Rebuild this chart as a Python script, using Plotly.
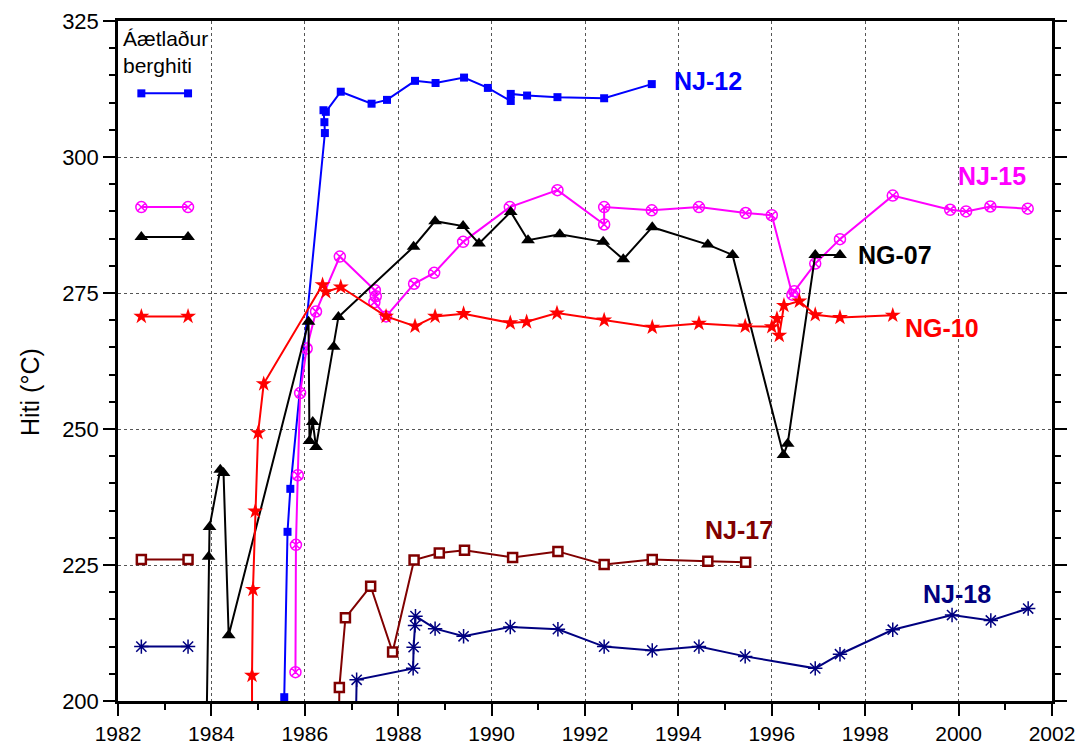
import plotly.graph_objects as go

# ---------------- data ----------------
nj12_x = [1985.56, 1985.63, 1985.69, 1986.43, 1986.42, 1986.40, 1986.45, 1986.77, 1987.43, 1987.76,
          1988.36, 1988.80, 1989.41, 1989.92, 1990.41, 1990.41, 1990.76, 1991.41, 1992.41, 1993.43]
nj12_y = [200.7, 231.1, 239.0, 304.4, 306.4, 308.6, 308.3, 312.0, 309.8, 310.5,
          314.0, 313.6, 314.6, 312.7, 310.3, 311.6, 311.3, 311.0, 310.8, 313.4]

nj15_x = [1985.80, 1985.81, 1985.85, 1985.90, 1986.04, 1986.24, 1986.75, 1987.50, 1987.52, 1987.49,
          1987.74, 1988.34, 1988.77, 1989.39, 1990.39, 1991.41, 1992.41, 1992.41, 1993.43, 1994.44,
          1995.44, 1996.00, 1996.44, 1996.48, 1996.93, 1997.46, 1998.59, 1999.82, 2000.16, 2000.68, 2001.48]
nj15_y = [205.3, 228.7, 241.5, 256.6, 264.8, 271.6, 281.7, 275.5, 274.4, 273.3,
          270.7, 276.7, 278.7, 284.4, 290.8, 293.9, 287.6, 290.8, 290.2, 290.8,
          289.7, 289.3, 274.7, 275.3, 280.4, 284.9, 292.9, 290.3, 290.0, 290.9, 290.5]

ng07_x = [1983.87, 1983.94, 1983.96, 1984.19, 1984.26, 1984.37, 1986.08, 1986.10, 1986.17, 1986.24,
          1986.62, 1986.72, 1988.33, 1988.79, 1989.39, 1989.73, 1990.41, 1990.78, 1991.46, 1992.39,
          1992.82, 1993.44, 1994.63, 1995.16, 1996.25, 1996.34, 1996.93, 1997.46]
ng07_y = [180.0, 226.5, 232.0, 242.5, 241.9, 212.1, 269.7, 247.8, 251.3, 246.7,
          265.1, 270.6, 283.5, 288.2, 287.3, 284.1, 289.9, 284.7, 285.8, 284.4,
          281.2, 287.1, 283.9, 282.0, 245.2, 247.3, 282.0, 282.0]

ng10_x = [1984.87, 1984.87, 1984.89, 1984.94, 1985.00, 1985.12, 1986.38, 1986.45, 1986.77, 1987.74,
          1988.36, 1988.79, 1989.40, 1990.40, 1990.75, 1991.40, 1992.41, 1993.44, 1994.44, 1995.43,
          1996.00, 1996.11, 1996.16, 1996.26, 1996.59, 1996.93, 1997.46, 1998.59]
ng10_y = [190.0, 204.7, 220.5, 234.9, 249.3, 258.3, 276.5, 275.2, 276.1, 270.7,
          268.9, 270.7, 271.2, 269.5, 269.7, 271.3, 270.0, 268.7, 269.4, 268.9,
          268.8, 270.3, 267.2, 272.7, 273.5, 271.0, 270.5, 270.9]

nj17_x = [1986.72, 1986.74, 1986.87, 1987.41, 1987.88, 1988.34, 1988.88, 1989.42, 1990.45, 1991.42,
          1992.41, 1993.44, 1994.63, 1995.44]
nj17_y = [185.0, 202.5, 215.3, 221.1, 209.0, 225.9, 227.2, 227.7, 226.4, 227.5,
          225.1, 226.0, 225.7, 225.5]

nj18_x = [1987.07, 1987.11, 1988.32, 1988.33, 1988.36, 1988.37, 1988.79, 1989.40, 1990.40, 1991.42,
          1992.41, 1993.44, 1994.44, 1995.43, 1996.93, 1997.46, 1998.59, 1999.86, 2000.69, 2001.49]
nj18_y = [185.0, 203.9, 206.0, 209.9, 213.9, 215.6, 213.3, 211.9, 213.6, 213.2,
          210.0, 209.3, 210.0, 208.2, 206.0, 208.6, 213.1, 215.8, 214.8, 217.0]

# estimated formation temperature ("Áætlaður berghiti") segments
est_x = [1982.5, 1983.5]
est_temp = {"NJ-12": 311.7, "NJ-15": 290.8, "NG-07": 285.3, "NG-10": 270.7, "NJ-17": 226.0, "NJ-18": 210.0}

# label positions (data coords)
labels = {"NJ-12": (1994.63, 314.0), "NJ-15": (2000.72, 296.6), "NG-07": (1998.64, 281.9),
          "NG-10": (1999.65, 268.5), "NJ-17": (1995.30, 231.4), "NJ-18": (1999.96, 219.7)}

x_ticks = list(range(1982, 2003, 2))
y_ticks = [200, 225, 250, 275, 300, 325]

# ---------------- styles ----------------
FONT = "Liberation Sans, Arial, sans-serif"
styles = {
    "NJ-12": dict(color="#0000FF", symbol="square", size=8, lw=2),
    "NJ-15": dict(color="#FF00FF", symbol="circle-x-open", size=11, lw=2),
    "NG-07": dict(color="#000000", symbol="triangle-up", size=12, lw=2),
    "NG-10": dict(color="#FF0000", symbol="star", size=12, lw=2),
    "NJ-17": dict(color="#800000", symbol="square", size=9, lw=2),
    "NJ-18": dict(color="#000080", symbol="asterisk-open", size=12, lw=2),
}
series = {
    "NJ-12": (nj12_x, nj12_y), "NJ-15": (nj15_x, nj15_y), "NG-07": (ng07_x, ng07_y),
    "NG-10": (ng10_x, ng10_y), "NJ-17": (nj17_x, nj17_y), "NJ-18": (nj18_x, nj18_y),
}

def marker_for(name):
    s = styles[name]
    if name == "NJ-17":
        return dict(symbol="square", size=s["size"], color="white",
                    line=dict(color=s["color"], width=2.5))
    if s["symbol"].endswith("open"):
        return dict(symbol=s["symbol"], size=s["size"], color=s["color"],
                    line=dict(color=s["color"], width=1.5))
    return dict(symbol=s["symbol"], size=s["size"], color=s["color"],
                line=dict(color=s["color"], width=0))

fig = go.Figure()
for name, (xs, ys) in series.items():
    s = styles[name]
    fig.add_trace(go.Scatter(x=xs, y=ys, mode="lines+markers", name=name,
                             line=dict(color=s["color"], width=s["lw"]),
                             marker=marker_for(name), showlegend=False))
    fig.add_trace(go.Scatter(x=est_x, y=[est_temp[name]] * 2, mode="lines+markers",
                             line=dict(color=s["color"], width=s["lw"]),
                             marker=marker_for(name), showlegend=False))
    lx, ly = labels[name]
    fig.add_annotation(x=lx, y=ly, text="<b>%s</b>" % name, showarrow=False,
                       font=dict(family=FONT, size=25, color=s["color"]),
                       xanchor="center", yanchor="middle")

fig.add_annotation(xref="paper", yref="paper", x=(121 - 118) / 934, y=(701 - 25) / 680,
                   text="Áætlaður<br>berghiti", showarrow=False, align="left",
                   xanchor="left", yanchor="top",
                   font=dict(family=FONT, size=21, color="black"))
fig.add_annotation(xref="paper", yref="paper", x=(30 - 118) / 934, y=(701 - 392) / 680,
                   text="Hiti (°C)", showarrow=False, textangle=-90,
                   xanchor="center", yanchor="middle",
                   font=dict(family=FONT, size=25, color="black"))

axis_common = dict(showline=True, linecolor="black", linewidth=2.5, mirror="ticks",
                   ticks="outside", ticklen=12, tickwidth=2, tickcolor="black",
                   showgrid=True, gridcolor="#555555", gridwidth=1, griddash="dot",
                   zeroline=False, automargin=False,
                   tickfont=dict(family=FONT, size=22, color="black"))

fig.update_xaxes(range=[1982, 2002], tickvals=x_ticks, ticktext=[str(v) for v in x_ticks],
                 minor=dict(dtick=1, ticks="outside", ticklen=6, tickwidth=2, tickcolor="black",
                            showgrid=False),
                 **{**axis_common, "mirror": True,
                    "tickfont": dict(family=FONT, size=21, color="black")})
fig.update_yaxes(range=[200, 325], tickvals=y_ticks, ticktext=[str(v) for v in y_ticks],
                 minor=dict(dtick=5, ticks="outside", ticklen=6, tickwidth=2, tickcolor="black",
                            showgrid=False),
                 **axis_common)

fig.update_layout(width=1083, height=744, margin=dict(l=118, r=31, t=21, b=43, autoexpand=False),
                  plot_bgcolor="white", paper_bgcolor="white", showlegend=False)

fig.write_html("out.html")
